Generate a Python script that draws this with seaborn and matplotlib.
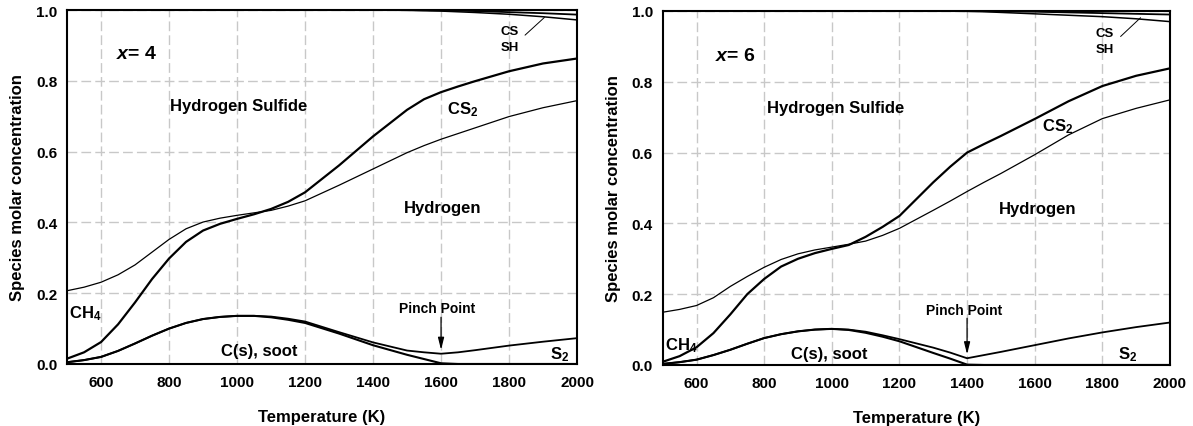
import matplotlib
matplotlib.use("Agg")
import matplotlib.pyplot as plt
import seaborn as sns
import pandas as pd

# ---------------- data ----------------
# Panel 1 : x = 4
T1 = [500, 550, 600, 650, 700, 750, 800, 850, 900, 950, 1000, 1050, 1100, 1150,
      1200, 1300, 1400, 1500, 1550, 1600, 1650, 1700, 1800, 1900, 2000]
bold_curve_1 = [0.015, 0.033, 0.062, 0.112, 0.174, 0.240, 0.298, 0.345, 0.377, 0.396,
                0.410, 0.423, 0.438, 0.458, 0.485, 0.561, 0.643, 0.718, 0.748, 0.768,
                0.784, 0.799, 0.827, 0.849, 0.863]
thin_curve_1 = [0.207, 0.217, 0.231, 0.252, 0.280, 0.316, 0.352, 0.382, 0.401, 0.412,
                0.420, 0.427, 0.434, 0.446, 0.461, 0.505, 0.551, 0.597, 0.617, 0.635,
                0.651, 0.667, 0.699, 0.724, 0.744]
soot_1 = [0.005, 0.011, 0.020, 0.037, 0.058, 0.080, 0.100, 0.116, 0.127, 0.133,
          0.136, 0.136, 0.132, 0.125, 0.116, 0.086, 0.053, 0.026, 0.014, 0.002,
          0.0, 0.0, 0.0, 0.0, 0.0]
s2_top_1 = [0.005, 0.011, 0.020, 0.037, 0.058, 0.080, 0.100, 0.116, 0.127, 0.133,
            0.136, 0.136, 0.134, 0.128, 0.120, 0.090, 0.061, 0.038, 0.033, 0.029,
            0.033, 0.039, 0.052, 0.063, 0.073]
cs_top_1 = [1.0] * 17 + [1.0, 0.9995, 0.999, 0.998, 0.997, 0.994, 0.991, 0.987]
sh_top_1 = [1.0] * 16 + [1.0, 0.999, 0.998, 0.997, 0.995, 0.993, 0.988, 0.981, 0.972]

# Panel 2 : x = 6
T2 = [500, 550, 600, 650, 700, 750, 800, 850, 900, 950, 1000, 1050, 1100, 1150,
      1200, 1300, 1350, 1400, 1450, 1500, 1600, 1700, 1800, 1900, 2000]
bold_curve_2 = [0.009, 0.025, 0.050, 0.090, 0.143, 0.200, 0.243, 0.278, 0.300, 0.316,
                0.328, 0.339, 0.362, 0.390, 0.421, 0.516, 0.560, 0.600, 0.624, 0.647,
                0.695, 0.745, 0.788, 0.817, 0.838]
thin_curve_2 = [0.149, 0.157, 0.168, 0.190, 0.222, 0.250, 0.276, 0.298, 0.314, 0.325,
                0.333, 0.341, 0.350, 0.366, 0.386, 0.437, 0.463, 0.490, 0.516, 0.541,
                0.594, 0.650, 0.696, 0.725, 0.749]
soot_2 = [0.003, 0.008, 0.015, 0.028, 0.043, 0.060, 0.076, 0.087, 0.095, 0.100,
          0.102, 0.099, 0.091, 0.080, 0.067, 0.034, 0.018, 0.001, 0.0, 0.0,
          0.0, 0.0, 0.0, 0.0, 0.0]
s2_top_2 = [0.003, 0.008, 0.015, 0.028, 0.043, 0.060, 0.076, 0.087, 0.095, 0.100,
            0.102, 0.100, 0.094, 0.084, 0.073, 0.049, 0.035, 0.019, 0.028, 0.037,
            0.056, 0.075, 0.092, 0.107, 0.120]
cs_top_2 = [1.0] * 18 + [0.9995, 0.999, 0.998, 0.996, 0.994, 0.992, 0.990]
sh_top_2 = [1.0] * 16 + [0.9995, 0.999, 0.998, 0.996, 0.992, 0.988, 0.984, 0.978, 0.970]

x_ticks = [600, 800, 1000, 1200, 1400, 1600, 1800, 2000]
y_ticks = [0.0, 0.2, 0.4, 0.6, 0.8, 1.0]
x_label = "Temperature (K)"
y_label = "Species molar concentration"

# ---------------- style ----------------
sns.set_theme(style="white")
plt.rcParams["font.family"] = ["Liberation Sans", "DejaVu Sans"]
plt.rcParams["font.weight"] = "bold"
plt.rcParams["text.color"] = "black"
plt.rcParams["axes.labelcolor"] = "black"
plt.rcParams["xtick.color"] = "black"
plt.rcParams["ytick.color"] = "black"
plt.rcParams["mathtext.fontset"] = "custom"
plt.rcParams["mathtext.rm"] = "Liberation Sans:bold"
plt.rcParams["mathtext.bf"] = "Liberation Sans:bold"
plt.rcParams["mathtext.it"] = "Liberation Sans:italic:bold"

fig = plt.figure(figsize=(11.93, 4.27), dpi=100)
ax1 = fig.add_axes([0.0562, 0.1452, 0.4275, 0.8290])
ax2 = fig.add_axes([0.5555, 0.1429, 0.4252, 0.8290])

panels = [
    dict(ax=ax1, T=T1, bold=bold_curve_1, thin=thin_curve_1, soot=soot_1, s2=s2_top_1,
         cs=cs_top_1, sh=sh_top_1, xval="4", pinch=1600, pinch_tip=0.040,
         lab=dict(xv=(645, 0.876), h2s=(1006, 0.73), cs2=(1662, 0.722), h2=(1605, 0.443),
                  ch4=(554, 0.145), pp=(1588, 0.157), soot=(1066, 0.037), s2=(1949, 0.028),
                  cs=(1802, 0.942), sh=(1802, 0.895), lead=((1847, 0.929), (1904, 0.979)))),
    dict(ax=ax2, T=T2, bold=bold_curve_2, thin=thin_curve_2, soot=soot_2, s2=s2_top_2,
         cs=cs_top_2, sh=sh_top_2, xval="6", pinch=1400, pinch_tip=0.030,
         lab=dict(xv=(656, 0.873), h2s=(1010, 0.728), cs2=(1667, 0.676), h2=(1610, 0.443),
                  ch4=(555, 0.058), pp=(1391, 0.155), soot=(993, 0.033), s2=(1874, 0.032),
                  cs=(1807, 0.939), sh=(1807, 0.894), lead=((1854, 0.928), (1913, 0.981)))),
]

for p in panels:
    ax = p["ax"]
    df = pd.DataFrame({"T": p["T"], "bold": p["bold"], "thin": p["thin"],
                       "soot": p["soot"], "s2": p["s2"], "cs": p["cs"], "sh": p["sh"]})
    styles = [("soot", 1.5), ("s2", 1.3), ("bold", 1.6), ("thin", 0.9),
              ("cs", 1.3), ("sh", 1.1)]
    for col, lw in styles:
        sns.lineplot(data=df, x="T", y=col, ax=ax, color="black", lw=lw,
                     estimator=None, sort=True)

    ax.set_xlim(500, 2000)
    ax.set_ylim(0.0, 1.0)
    ax.set_xticks(x_ticks)
    ax.set_yticks(y_ticks)
    ax.set_xticklabels([str(v) for v in x_ticks])
    ax.set_yticklabels([f"{v:.1f}" for v in y_ticks])
    ax.tick_params(axis="both", direction="in", length=4, width=1.0, color="black",
                   labelcolor="black", labelsize=11, pad=7)
    ax.tick_params(axis="x", pad=8)
    for lab in ax.get_xticklabels() + ax.get_yticklabels():
        lab.set_fontweight("bold")
    ax.grid(True, color="#c8c8c8", lw=1.0, linestyle=(0, (7, 3)))
    ax.set_axisbelow(True)
    for s in ax.spines.values():
        s.set_color("black")
        s.set_linewidth(1.5)
        s.set_visible(True)
    ax.set_xlabel(x_label, fontsize=12, fontweight="bold", labelpad=14, color="black")
    ax.set_ylabel(y_label, fontsize=12, fontweight="bold", labelpad=8, color="black")

    L = p["lab"]
    ax.text(*L["xv"], r"$x$= " + p["xval"], fontsize=14, fontweight="bold",
            ha="left", va="center")
    ax.text(*L["h2s"], "Hydrogen Sulfide", fontsize=12, fontweight="bold",
            ha="center", va="center")
    ax.text(*L["cs2"], r"$\mathrm{CS_2}$", fontsize=12, ha="center", va="center")
    ax.text(*L["h2"], "Hydrogen", fontsize=12, fontweight="bold",
            ha="center", va="center")
    ax.text(*L["ch4"], r"$\mathrm{CH_4}$", fontsize=12, ha="center", va="center")
    ax.text(*L["pp"], "Pinch Point", fontsize=10, fontweight="bold",
            ha="center", va="center")
    ax.text(*L["soot"], "C(s), soot", fontsize=12, fontweight="bold",
            ha="center", va="center")
    ax.text(*L["s2"], r"$\mathrm{S_2}$", fontsize=12, ha="center", va="center")
    ax.text(*L["cs"], "CS", fontsize=9.5, fontweight="bold", ha="center", va="center")
    ax.text(*L["sh"], "SH", fontsize=9.5, fontweight="bold", ha="center", va="center")
    (x0, y0), (x1, y1) = L["lead"]
    ax.plot([x0, x1], [y0, y1], color="black", lw=0.7)
    ax.annotate("", xy=(p["pinch"], p["pinch_tip"]), xytext=(p["pinch"], 0.132),
                arrowprops=dict(arrowstyle="-|>,head_length=0.6,head_width=0.15",
                                color="black", lw=0.9, shrinkA=0, shrinkB=0))

fig.savefig("out.png", dpi=100)
